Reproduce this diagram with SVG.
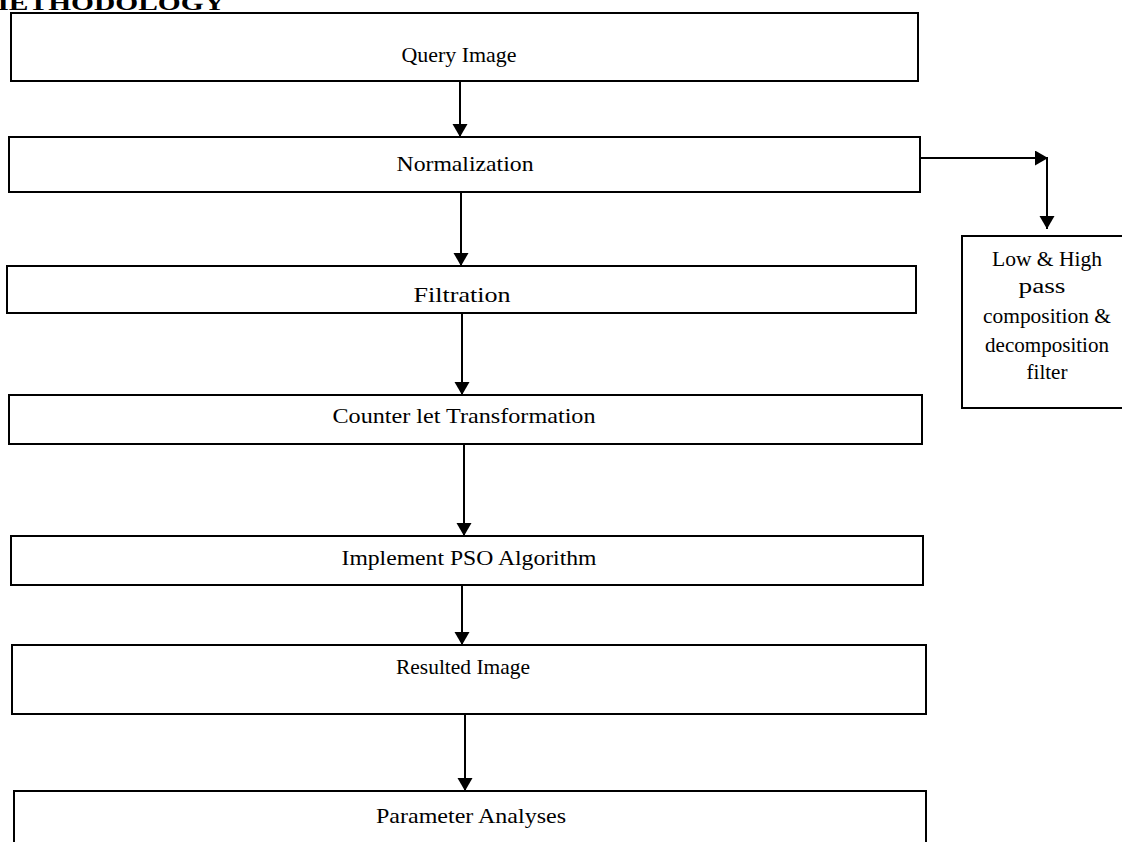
<svg xmlns="http://www.w3.org/2000/svg" width="1122" height="842" viewBox="0 0 1122 842">
<style>
.box{fill:#fff;stroke:#000;stroke-width:2}
.t{font-family:"Liberation Serif","Times New Roman",serif;font-size:21px;fill:#000;text-anchor:middle}
.s{font-family:"Liberation Serif","Times New Roman",serif;font-size:20px;fill:#000;text-anchor:middle}
.c{stroke:#000;stroke-width:2;fill:none;marker-end:url(#ah)}
</style>
<defs>
<marker id="ah" markerUnits="userSpaceOnUse" markerWidth="16" markerHeight="16" refX="13" refY="7.5" orient="auto">
<path d="M0,0 L13,7.5 L0,15 Z" fill="#000"/>
</marker>
</defs>
<rect width="1122" height="842" fill="#fff"/>
<text x="-19" y="10" font-family="Liberation Serif,serif" font-weight="bold" font-size="22" textLength="244" lengthAdjust="spacingAndGlyphs">METHODOLOGY</text>
<g id="connectors">
<line class="c" x1="460" y1="81" x2="460" y2="137"/>
<line class="c" x1="461" y1="192" x2="461" y2="266"/>
<line class="c" x1="462" y1="313" x2="462" y2="395"/>
<line class="c" x1="464" y1="444" x2="464" y2="536"/>
<line class="c" x1="462" y1="585" x2="462" y2="645"/>
<line class="c" x1="465" y1="714" x2="465" y2="791"/>
<line class="c" x1="920" y1="158" x2="1048" y2="158"/>
<line class="c" x1="1047" y1="158" x2="1047" y2="229"/>
</g>
<g id="query"><rect class="box" x="11" y="13" width="907" height="68"/><text class="t" x="459" y="62" textLength="115" lengthAdjust="spacingAndGlyphs">Query Image</text></g>
<g id="normalization"><rect class="box" x="9" y="137" width="911" height="55"/><text class="t" x="465" y="171" textLength="137" lengthAdjust="spacingAndGlyphs">Normalization</text></g>
<g id="filtration"><rect class="box" x="7" y="266" width="909" height="47"/><text class="t" x="462" y="302" font-size="26" textLength="97" lengthAdjust="spacingAndGlyphs">Filtration</text></g>
<g id="counterlet"><rect class="box" x="9" y="395" width="913" height="49"/><text class="t" x="464" y="423" textLength="263" lengthAdjust="spacingAndGlyphs">Counter let Transformation</text></g>
<g id="pso"><rect class="box" x="11" y="536" width="912" height="49"/><text class="t" x="469" y="565" textLength="255" lengthAdjust="spacingAndGlyphs">Implement PSO Algorithm</text></g>
<g id="resulted"><rect class="box" x="12" y="645" width="914" height="69"/><text class="t" x="463" y="674" textLength="134" lengthAdjust="spacingAndGlyphs">Resulted Image</text></g>
<g id="parameter"><rect class="box" x="14" y="791" width="912" height="70"/><text class="t" x="471" y="823" textLength="190" lengthAdjust="spacingAndGlyphs">Parameter Analyses</text></g>
<g id="filter">
<rect class="box" x="962" y="236" width="170" height="172"/>
<text class="s" x="1047" y="266" textLength="110" lengthAdjust="spacingAndGlyphs">Low &amp; High</text>
<text class="s" x="1042" y="293" textLength="47" lengthAdjust="spacingAndGlyphs">pass</text>
<text class="s" x="1047" y="323" textLength="128" lengthAdjust="spacingAndGlyphs">composition &amp;</text>
<text class="s" x="1047" y="352" textLength="124" lengthAdjust="spacingAndGlyphs">decomposition</text>
<text class="s" x="1047" y="379" textLength="41" lengthAdjust="spacingAndGlyphs">filter</text>
</g>
</svg>
